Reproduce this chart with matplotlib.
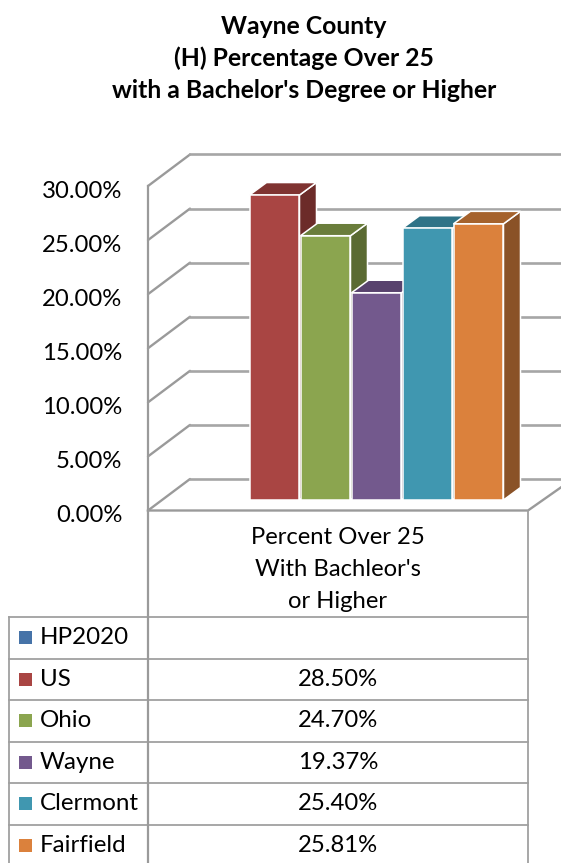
import numpy as np
import matplotlib
matplotlib.use("Agg")
import matplotlib.pyplot as plt
from matplotlib.patches import Polygon, Rectangle
from matplotlib.ticker import FuncFormatter
from matplotlib.transforms import ScaledTranslation

plt.rcParams['font.family'] = ['Lato', 'DejaVu Sans']

title_lines = ["Wayne County", "(H) Percentage Over 25", "with a Bachelor's Degree or Higher"]
category_lines = ["Percent Over 25", "With Bachleor's", "or Higher"]
series = ["HP2020", "US", "Ohio", "Wayne", "Clermont", "Fairfield"]
values = [np.nan, 28.50, 24.70, 19.37, 25.40, 25.81]
yticks = [0, 5, 10, 15, 20, 25, 30]
front = ["#4673A8", "#A94543", "#8BA54F", "#73598D", "#4097B0", "#DB813C"]
top = ["#35577F", "#7F3331", "#6A7D3B", "#58426D", "#2F7387", "#A5622C"]
side = ["#2E4C6E", "#6C2B29", "#5A6A32", "#4B3A5D", "#286273", "#8A5227"]

W, H = 561, 863
GRID = "#9A9A9A"
fig = plt.figure(figsize=(W / 100, H / 100), dpi=100, facecolor="white")


def axes_px(x0, x1, ytop, ybot, **kw):
    return fig.add_axes([x0 / W, 1 - ybot / H, (x1 - x0) / W, (ybot - ytop) / H], **kw)


# full-figure pixel layer: title and table
page = axes_px(0, W, 0, H)
page.set_xlim(0, W)
page.set_ylim(H, 0)
page.axis("off")

for line, y in zip(title_lines, [26, 58, 90]):
    page.text(304, y, line, ha="center", va="center", fontsize=17.8, fontweight="bold", color="black")

# value axis with wall and floor
wall = axes_px(148, 528, 186, 510.5)
wall.set_xlim(148, 528)
wall.set_ylim(0, 30)
wall.patch.set_alpha(0)
for s in ["top", "right", "bottom"]:
    wall.spines[s].set_visible(False)
wall.spines["left"].set_color(GRID)
wall.spines["left"].set_linewidth(1.6)
wall.set_xticks([])
wall.set_yticks(yticks)
wall.yaxis.set_major_formatter(FuncFormatter(lambda v, _: f"{v:.2f}%"))
wall.tick_params(axis="y", length=0, pad=18.5, labelsize=17.2, labelcolor="black")
label_shift = ScaledTranslation(0, -3 / 100, fig.dpi_scale_trans)
for lab in wall.get_yticklabels():
    lab.set_transform(lab.get_transform() + label_shift)
dz = 31.5 / (324.5 / 30)
for t in yticks:
    wall.plot([148, 190], [t, t + dz], color=GRID, lw=1.7, clip_on=False, solid_capstyle="round")
    wall.plot([190, 600], [t + dz, t + dz], color="#A6A6A6", lw=1.9, clip_on=False)
wall.plot([148, 528, 575], [0, 0, 33 / (324.5 / 30)], color=GRID, lw=1.7, clip_on=False)

# bars: 51 px per category slot, 10.7 px per percent
bars_ax = axes_px(198, 504, 179, 500)
bars_ax.set_xlim(-0.5, 5.5)
bars_ax.set_ylim(0, 30)
bars_ax.axis("off")
px_x = 306 / 6
px_y = 321 / 30
ddx, ddy = 17 / px_x, 12.5 / px_y
for i, (v, f, tp, sd) in enumerate(zip(values, front, top, side)):
    if np.isnan(v):
        continue
    z = 3 + i
    left, right = i - 0.5 + 0.01, i + 0.5 - 0.01
    bars_ax.add_patch(Polygon([(right, 0), (right + ddx, ddy), (right + ddx, v + ddy), (right, v)],
                              facecolor=sd, edgecolor="white", lw=1.1, zorder=z, clip_on=False))
    bars_ax.add_patch(Polygon([(left, v), (left + ddx, v + ddy), (right + ddx, v + ddy), (right, v)],
                              facecolor=tp, edgecolor="white", lw=1.1, zorder=z, clip_on=False))
    bars_ax.bar(i, v, width=right - left, color=f, edgecolor="white", lw=1.1, zorder=z + 0.5)

# data table
page.set_zorder(10)
row_y = [617, 658.5, 700, 741.5, 783, 824.5]
for y in row_y:
    page.plot([9, 528], [y, y], color="#A0A0A0", lw=1.3, clip_on=False)
page.plot([9, 9], [617, 870], color="#A0A0A0", lw=1.3)
page.plot([148, 148], [511, 870], color=GRID, lw=1.6)
page.plot([528, 528], [511, 870], color="#A0A0A0", lw=1.3)

for line, y in zip(category_lines, [537, 569.5, 601]):
    page.text(338, y, line, ha="center", va="center", fontsize=17.2, color="black")

for y, name, v, c in zip(row_y, series, values, front):
    cy = y + 20.5
    page.add_patch(Rectangle((19.5, cy - 6.5), 13, 13, facecolor=c, edgecolor="none"))
    page.text(40, cy, name, ha="left", va="center", fontsize=17.4, color="black")
    if not np.isnan(v):
        page.text(338, cy, f"{v:.2f}%", ha="center", va="center", fontsize=17.2, color="black")

fig.savefig("out.png", dpi=100)
